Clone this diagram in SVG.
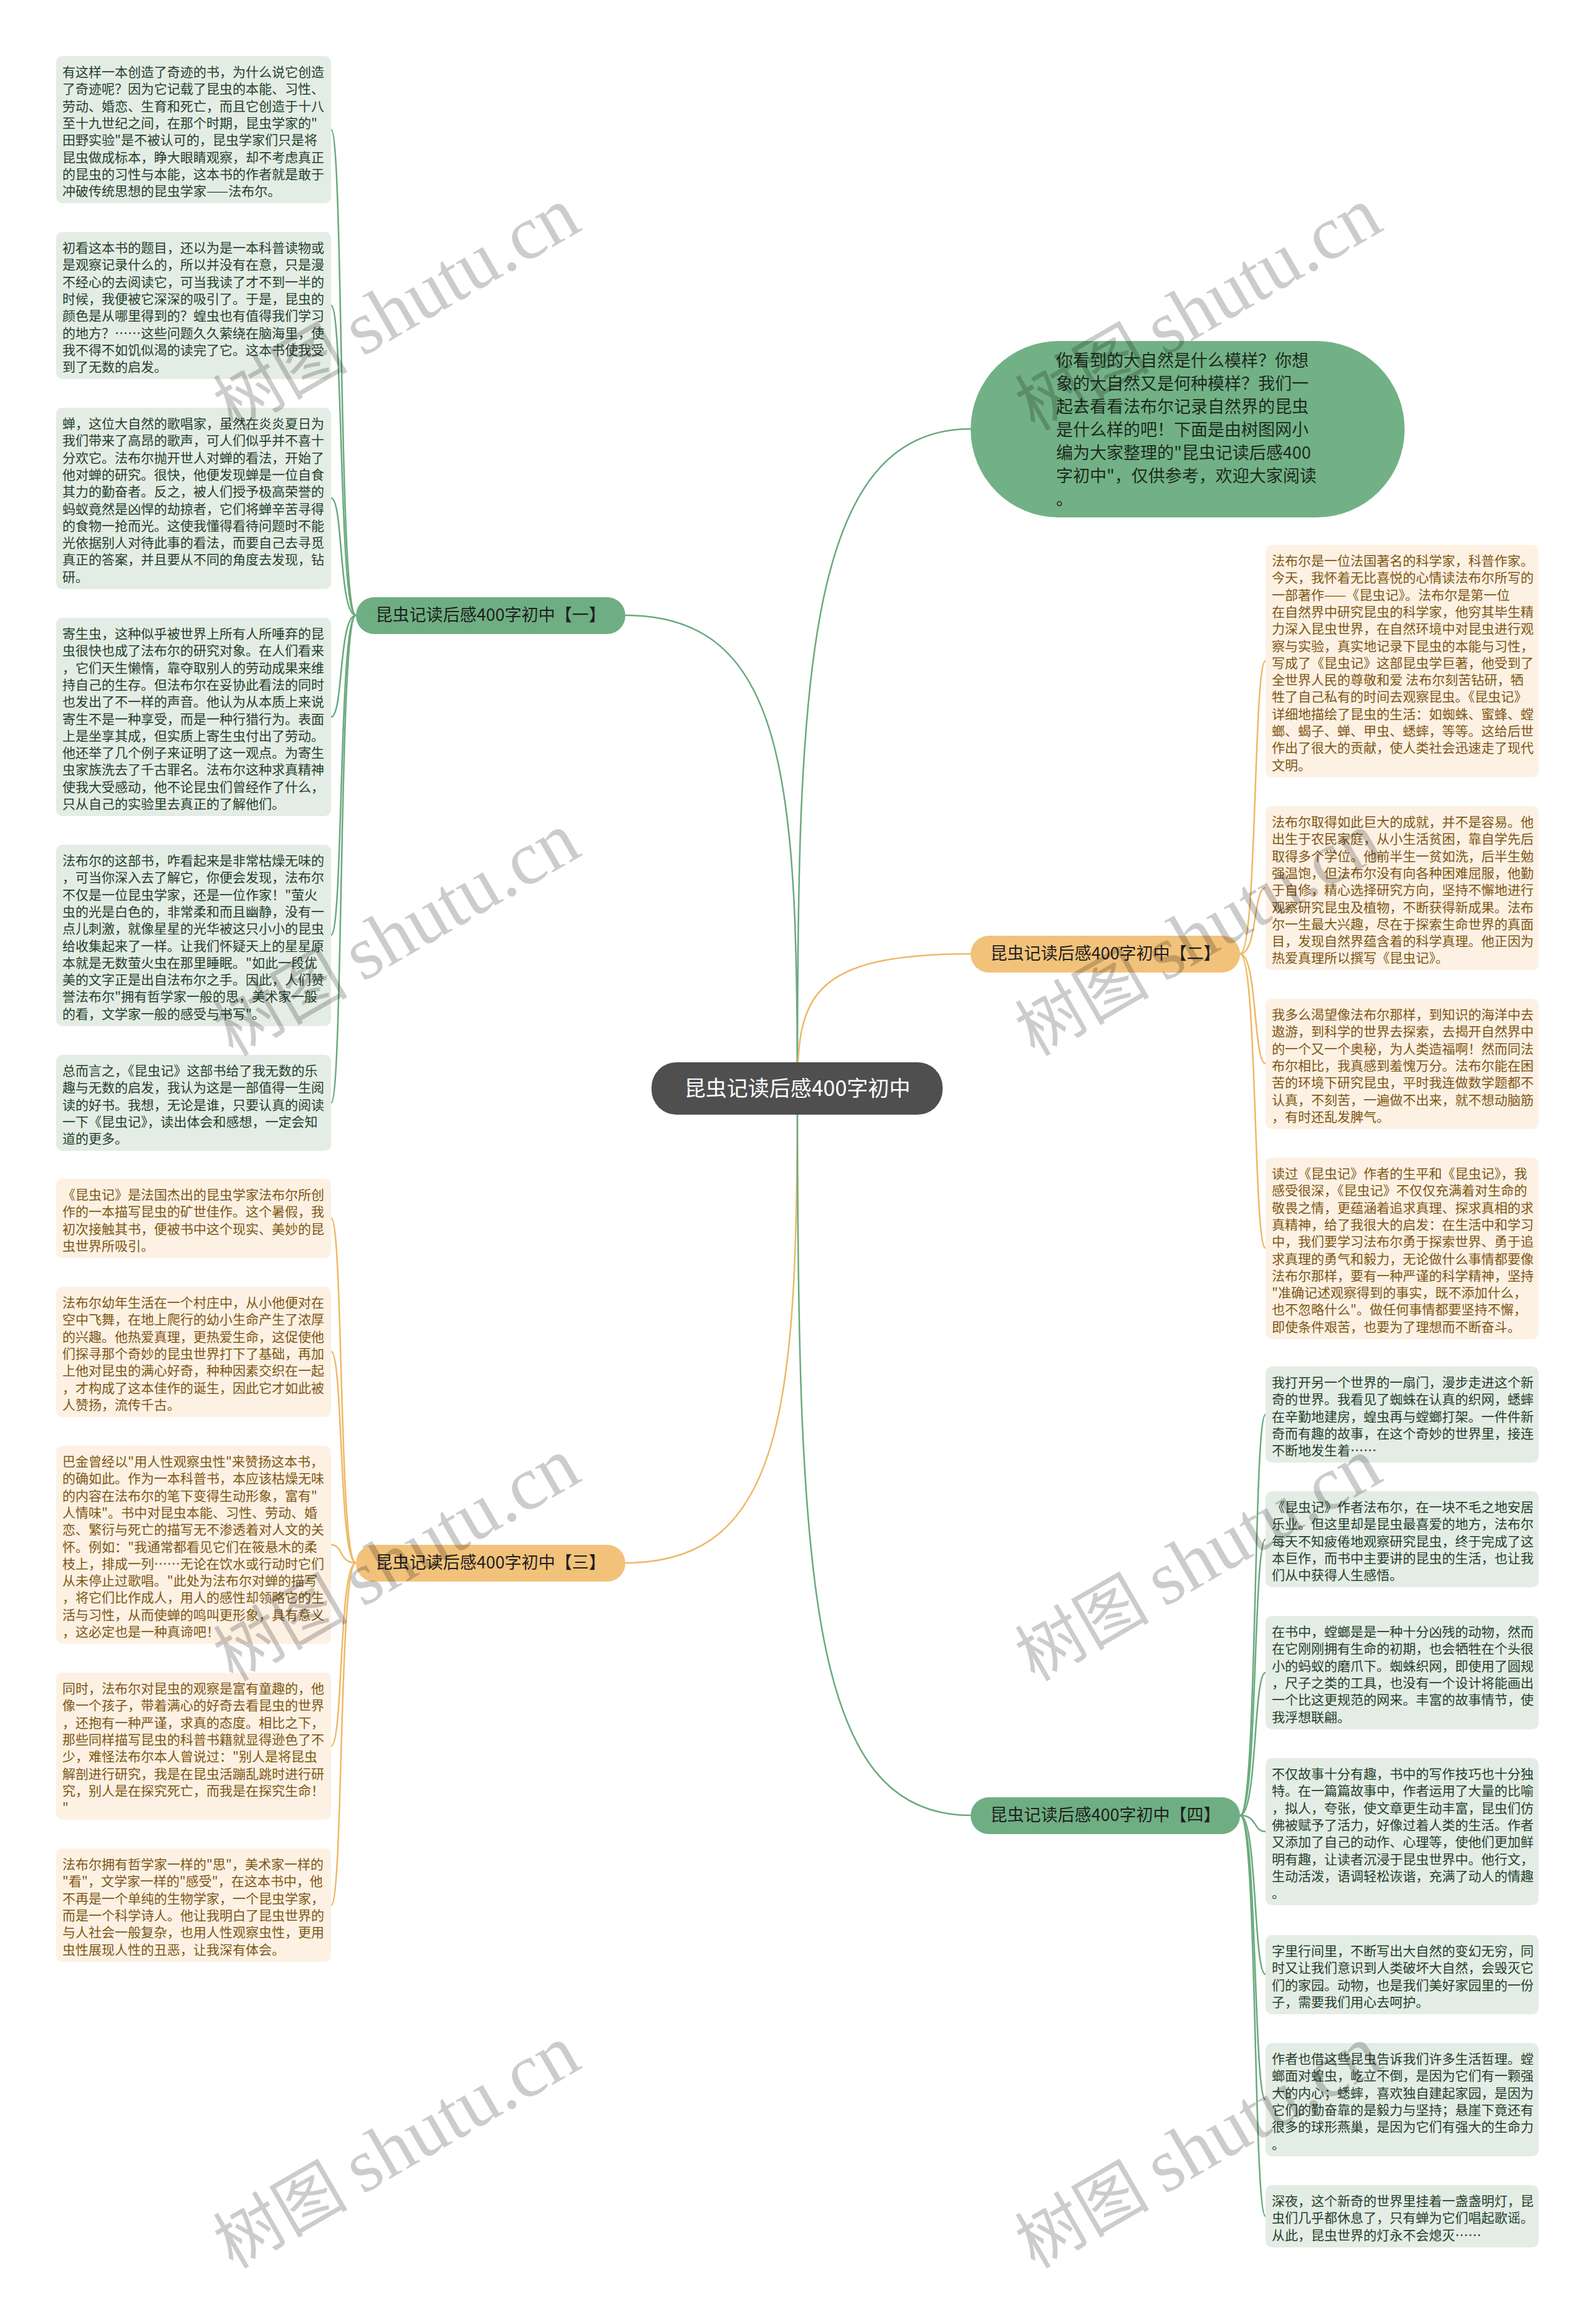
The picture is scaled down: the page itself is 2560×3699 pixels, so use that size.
<svg xmlns="http://www.w3.org/2000/svg" width="2560" height="3699" viewBox="0 0 2560 3699">
<style>
text{font-family:"Noto Sans CJK SC","Noto Sans",sans-serif}
.bg{fill:#e4ede5}
.bo{fill:#fdf1e3}
.tg{font-size:21px;fill:#24402c}
.to{font-size:21px;fill:#7e5714}
.lg{fill:none;stroke:#6aa97d;stroke-width:2.5}
.lo{fill:none;stroke:#eeb865;stroke-width:2.5}
.br{font-size:27px;fill:#1f1f1f;text-anchor:middle}
.wm{font-size:108px;fill:#000;fill-opacity:0.2;text-anchor:middle}
.wl{font-family:"Liberation Serif",serif;font-size:122px}
</style>
<rect width="2560" height="3699" fill="#ffffff"/>
<g id="connectors">
<path class="lg" d="M1279 1746 C1279 1100 1290 688 1557 688"/>
<path class="lg" d="M1279 1746 C1279 1250 1260 987 1003 987"/>
<path class="lo" d="M1279 1746 C1279 1600 1300 1530 1557 1530"/>
<path class="lo" d="M1279 1746 C1279 2250 1260 2507 1003 2507"/>
<path class="lg" d="M1279 1746 C1279 2550 1300 2912 1557 2912"/>
<path class="lg" d="M571 987 C543 987 551 208 531 208"/>
<path class="lg" d="M571 987 C543 987 551 490 531 490"/>
<path class="lg" d="M571 987 C543 987 551 799 531 799"/>
<path class="lg" d="M571 987 C543 987 551 1150 531 1150"/>
<path class="lg" d="M571 987 C543 987 551 1500 531 1500"/>
<path class="lg" d="M571 987 C543 987 551 1769 531 1769"/>
<path class="lo" d="M571 2507 C543 2507 551 1954 531 1954"/>
<path class="lo" d="M571 2507 C543 2507 551 2168 531 2168"/>
<path class="lo" d="M571 2507 C543 2507 551 2478 531 2478"/>
<path class="lo" d="M571 2507 C543 2507 551 2801 531 2801"/>
<path class="lo" d="M571 2507 C543 2507 551 3056 531 3056"/>
<path class="lo" d="M1989 1530 C2017 1530 2010 1060 2030 1060"/>
<path class="lo" d="M1989 1530 C2017 1530 2010 1424 2030 1424"/>
<path class="lo" d="M1989 1530 C2017 1530 2010 1706 2030 1706"/>
<path class="lo" d="M1989 1530 C2017 1530 2010 2002 2030 2002"/>
<path class="lg" d="M1989 2912 C2017 2912 2010 2269 2030 2269"/>
<path class="lg" d="M1989 2912 C2017 2912 2010 2469 2030 2469"/>
<path class="lg" d="M1989 2912 C2017 2912 2010 2683 2030 2683"/>
<path class="lg" d="M1989 2912 C2017 2912 2010 2938 2030 2938"/>
<path class="lg" d="M1989 2912 C2017 2912 2010 3167 2030 3167"/>
<path class="lg" d="M1989 2912 C2017 2912 2010 3368 2030 3368"/>
<path class="lg" d="M1989 2912 C2017 2912 2010 3555 2030 3555"/>
</g>
<g id="root">
<rect x="1045" y="1704" width="467" height="84" rx="40" fill="#4f4f4f"/>
<text x="1279" y="1758" font-size="34" fill="#ffffff" text-anchor="middle">昆虫记读后感400字初中</text>
</g>
<g id="intro">
<rect x="1557" y="547" width="696" height="283" rx="141" fill="#72b185"/>
<text x="1694" y="588" font-size="27" fill="#1d2a20"><tspan x="1694">你看到的大自然是什么模样？你想</tspan><tspan x="1694" dy="37">象的大自然又是何种模样？我们一</tspan><tspan x="1694" dy="37">起去看看法布尔记录自然界的昆虫</tspan><tspan x="1694" dy="37">是什么样的吧！下面是由树图网小</tspan><tspan x="1694" dy="37">编为大家整理的"昆虫记读后感400</tspan><tspan x="1694" dy="37">字初中"，仅供参考，欢迎大家阅读</tspan><tspan x="1694" dy="37">。</tspan></text>
</g>
<g id="b1">
<rect x="571" y="958" width="432" height="59" rx="29" fill="#6fae82"/>
<text class="br" x="787" y="996">昆虫记读后感400字初中【一】</text>
</g>
<g id="b2">
<rect x="1557" y="1501" width="432" height="59" rx="29" fill="#f2c27a"/>
<text class="br" x="1773" y="1539">昆虫记读后感400字初中【二】</text>
</g>
<g id="b3">
<rect x="571" y="2478" width="432" height="59" rx="29" fill="#f2c27a"/>
<text class="br" x="787" y="2516">昆虫记读后感400字初中【三】</text>
</g>
<g id="b4">
<rect x="1557" y="2883" width="432" height="59" rx="29" fill="#6fae82"/>
<text class="br" x="1773" y="2921">昆虫记读后感400字初中【四】</text>
</g>
<g id="l1"><rect class="bg" x="90" y="90" width="441" height="236" rx="10"/>
<text class="tg" x="100" y="123"><tspan x="100">有这样一本创造了奇迹的书，为什么说它创造</tspan><tspan x="100" dy="27.3">了奇迹呢？因为它记载了昆虫的本能、习性、</tspan><tspan x="100" dy="27.3">劳动、婚恋、生育和死亡，而且它创造于十八</tspan><tspan x="100" dy="27.3">至十九世纪之间，在那个时期，昆虫学家的"</tspan><tspan x="100" dy="27.3">田野实验"是不被认可的，昆虫学家们只是将</tspan><tspan x="100" dy="27.3">昆虫做成标本，睁大眼睛观察，却不考虑真正</tspan><tspan x="100" dy="27.3">的昆虫的习性与本能，这本书的作者就是敢于</tspan><tspan x="100" dy="27.3">冲破传统思想的昆虫学家——法布尔。</tspan></text></g>
<g id="l2"><rect class="bg" x="90" y="372" width="441" height="236" rx="10"/>
<text class="tg" x="100" y="405"><tspan x="100">初看这本书的题目，还以为是一本科普读物或</tspan><tspan x="100" dy="27.3">是观察记录什么的，所以并没有在意，只是漫</tspan><tspan x="100" dy="27.3">不经心的去阅读它，可当我读了才不到一半的</tspan><tspan x="100" dy="27.3">时候，我便被它深深的吸引了。于是，昆虫的</tspan><tspan x="100" dy="27.3">颜色是从哪里得到的？蝗虫也有值得我们学习</tspan><tspan x="100" dy="27.3">的地方？……这些问题久久萦绕在脑海里，使</tspan><tspan x="100" dy="27.3">我不得不如饥似渴的读完了它。这本书使我受</tspan><tspan x="100" dy="27.3">到了无数的启发。</tspan></text></g>
<g id="l3"><rect class="bg" x="90" y="654" width="441" height="291" rx="10"/>
<text class="tg" x="100" y="687"><tspan x="100">蝉，这位大自然的歌唱家，虽然在炎炎夏日为</tspan><tspan x="100" dy="27.3">我们带来了高昂的歌声，可人们似乎并不喜十</tspan><tspan x="100" dy="27.3">分欢它。法布尔抛开世人对蝉的看法，开始了</tspan><tspan x="100" dy="27.3">他对蝉的研究。很快，他便发现蝉是一位自食</tspan><tspan x="100" dy="27.3">其力的勤奋者。反之，被人们授予极高荣誉的</tspan><tspan x="100" dy="27.3">蚂蚁竟然是凶悍的劫掠者，它们将蝉辛苦寻得</tspan><tspan x="100" dy="27.3">的食物一抢而光。这使我懂得看待问题时不能</tspan><tspan x="100" dy="27.3">光依据别人对待此事的看法，而要自己去寻觅</tspan><tspan x="100" dy="27.3">真正的答案，并且要从不同的角度去发现，钻</tspan><tspan x="100" dy="27.3">研。</tspan></text></g>
<g id="l4"><rect class="bg" x="90" y="991" width="441" height="318" rx="10"/>
<text class="tg" x="100" y="1024"><tspan x="100">寄生虫，这种似乎被世界上所有人所唾弃的昆</tspan><tspan x="100" dy="27.3">虫很快也成了法布尔的研究对象。在人们看来</tspan><tspan x="100" dy="27.3">，它们天生懒惰，靠夺取别人的劳动成果来维</tspan><tspan x="100" dy="27.3">持自己的生存。但法布尔在妥协此看法的同时</tspan><tspan x="100" dy="27.3">也发出了不一样的声音。他认为从本质上来说</tspan><tspan x="100" dy="27.3">寄生不是一种享受，而是一种行猎行为。表面</tspan><tspan x="100" dy="27.3">上是坐享其成，但实质上寄生虫付出了劳动。</tspan><tspan x="100" dy="27.3">他还举了几个例子来证明了这一观点。为寄生</tspan><tspan x="100" dy="27.3">虫家族洗去了千古罪名。法布尔这种求真精神</tspan><tspan x="100" dy="27.3">使我大受感动，他不论昆虫们曾经作了什么，</tspan><tspan x="100" dy="27.3">只从自己的实验里去真正的了解他们。</tspan></text></g>
<g id="l5"><rect class="bg" x="90" y="1355" width="441" height="291" rx="10"/>
<text class="tg" x="100" y="1388"><tspan x="100">法布尔的这部书，咋看起来是非常枯燥无味的</tspan><tspan x="100" dy="27.3">，可当你深入去了解它，你便会发现，法布尔</tspan><tspan x="100" dy="27.3">不仅是一位昆虫学家，还是一位作家！"萤火</tspan><tspan x="100" dy="27.3">虫的光是白色的，非常柔和而且幽静，没有一</tspan><tspan x="100" dy="27.3">点儿刺激，就像星星的光华被这只小小的昆虫</tspan><tspan x="100" dy="27.3">给收集起来了一样。让我们怀疑天上的星星原</tspan><tspan x="100" dy="27.3">本就是无数萤火虫在那里睡眠。"如此一段优</tspan><tspan x="100" dy="27.3">美的文字正是出自法布尔之手。因此，人们赞</tspan><tspan x="100" dy="27.3">誉法布尔"拥有哲学家一般的思，美术家一般</tspan><tspan x="100" dy="27.3">的看，文学家一般的感受与书写"。</tspan></text></g>
<g id="l6"><rect class="bg" x="90" y="1692" width="441" height="154" rx="10"/>
<text class="tg" x="100" y="1725"><tspan x="100">总而言之，《昆虫记》这部书给了我无数的乐</tspan><tspan x="100" dy="27.3">趣与无数的启发，我认为这是一部值得一生阅</tspan><tspan x="100" dy="27.3">读的好书。我想，无论是谁，只要认真的阅读</tspan><tspan x="100" dy="27.3">一下《昆虫记》，读出体会和感想，一定会知</tspan><tspan x="100" dy="27.3">道的更多。</tspan></text></g>
<g id="l7"><rect class="bo" x="90" y="1891" width="441" height="127" rx="10"/>
<text class="to" x="100" y="1924"><tspan x="100">《昆虫记》是法国杰出的昆虫学家法布尔所创</tspan><tspan x="100" dy="27.3">作的一本描写昆虫的矿世佳作。这个暑假，我</tspan><tspan x="100" dy="27.3">初次接触其书，便被书中这个现实、美妙的昆</tspan><tspan x="100" dy="27.3">虫世界所吸引。</tspan></text></g>
<g id="l8"><rect class="bo" x="90" y="2064" width="441" height="209" rx="10"/>
<text class="to" x="100" y="2097"><tspan x="100">法布尔幼年生活在一个村庄中，从小他便对在</tspan><tspan x="100" dy="27.3">空中飞舞，在地上爬行的幼小生命产生了浓厚</tspan><tspan x="100" dy="27.3">的兴趣。他热爱真理，更热爱生命，这促使他</tspan><tspan x="100" dy="27.3">们探寻那个奇妙的昆虫世界打下了基础，再加</tspan><tspan x="100" dy="27.3">上他对昆虫的满心好奇，种种因素交织在一起</tspan><tspan x="100" dy="27.3">，才构成了这本佳作的诞生，因此它才如此被</tspan><tspan x="100" dy="27.3">人赞扬，流传千古。</tspan></text></g>
<g id="l9"><rect class="bo" x="90" y="2319" width="441" height="318" rx="10"/>
<text class="to" x="100" y="2352"><tspan x="100">巴金曾经以"用人性观察虫性"来赞扬这本书，</tspan><tspan x="100" dy="27.3">的确如此。作为一本科普书，本应该枯燥无味</tspan><tspan x="100" dy="27.3">的内容在法布尔的笔下变得生动形象，富有"</tspan><tspan x="100" dy="27.3">人情味"。书中对昆虫本能、习性、劳动、婚</tspan><tspan x="100" dy="27.3">恋、繁衍与死亡的描写无不渗透着对人文的关</tspan><tspan x="100" dy="27.3">怀。例如："我通常都看见它们在筱悬木的柔</tspan><tspan x="100" dy="27.3">枝上，排成一列……无论在饮水或行动时它们</tspan><tspan x="100" dy="27.3">从未停止过歌唱。"此处为法布尔对蝉的描写</tspan><tspan x="100" dy="27.3">，将它们比作成人，用人的感性却领略它的生</tspan><tspan x="100" dy="27.3">活与习性，从而使蝉的鸣叫更形象，具有意义</tspan><tspan x="100" dy="27.3">，这必定也是一种真谛吧！</tspan></text></g>
<g id="l10"><rect class="bo" x="90" y="2683" width="441" height="236" rx="10"/>
<text class="to" x="100" y="2716"><tspan x="100">同时，法布尔对昆虫的观察是富有童趣的，他</tspan><tspan x="100" dy="27.3">像一个孩子，带着满心的好奇去看昆虫的世界</tspan><tspan x="100" dy="27.3">，还抱有一种严谨，求真的态度。相比之下，</tspan><tspan x="100" dy="27.3">那些同样描写昆虫的科普书籍就显得逊色了不</tspan><tspan x="100" dy="27.3">少，难怪法布尔本人曾说过："别人是将昆虫</tspan><tspan x="100" dy="27.3">解剖进行研究，我是在昆虫活蹦乱跳时进行研</tspan><tspan x="100" dy="27.3">究，别人是在探究死亡，而我是在探究生命！</tspan><tspan x="100" dy="27.3">"</tspan></text></g>
<g id="l11"><rect class="bo" x="90" y="2965" width="441" height="182" rx="10"/>
<text class="to" x="100" y="2998"><tspan x="100">法布尔拥有哲学家一样的"思"，美术家一样的</tspan><tspan x="100" dy="27.3">"看"，文学家一样的"感受"，在这本书中，他</tspan><tspan x="100" dy="27.3">不再是一个单纯的生物学家，一个昆虫学家，</tspan><tspan x="100" dy="27.3">而是一个科学诗人。他让我明白了昆虫世界的</tspan><tspan x="100" dy="27.3">与人社会一般复杂，也用人性观察虫性，更用</tspan><tspan x="100" dy="27.3">虫性展现人性的丑恶，让我深有体会。</tspan></text></g>
<g id="r1"><rect class="bo" x="2030" y="874" width="438" height="373" rx="10"/>
<text class="to" x="2040" y="907"><tspan x="2040">法布尔是一位法国著名的科学家，科普作家。</tspan><tspan x="2040" dy="27.3">今天，我怀着无比喜悦的心情读法布尔所写的</tspan><tspan x="2040" dy="27.3">一部著作——《昆虫记》。法布尔是第一位</tspan><tspan x="2040" dy="27.3">在自然界中研究昆虫的科学家，他穷其毕生精</tspan><tspan x="2040" dy="27.3">力深入昆虫世界，在自然环境中对昆虫进行观</tspan><tspan x="2040" dy="27.3">察与实验，真实地记录下昆虫的本能与习性，</tspan><tspan x="2040" dy="27.3">写成了《昆虫记》这部昆虫学巨著，他受到了</tspan><tspan x="2040" dy="27.3">全世界人民的尊敬和爱 法布尔刻苦钻研，牺</tspan><tspan x="2040" dy="27.3">牲了自己私有的时间去观察昆虫。《昆虫记》</tspan><tspan x="2040" dy="27.3">详细地描绘了昆虫的生活：如蜘蛛、蜜蜂、螳</tspan><tspan x="2040" dy="27.3">螂、蝎子、蝉、甲虫、蟋蟀，等等。这给后世</tspan><tspan x="2040" dy="27.3">作出了很大的贡献，使人类社会迅速走了现代</tspan><tspan x="2040" dy="27.3">文明。</tspan></text></g>
<g id="r2"><rect class="bo" x="2030" y="1293" width="438" height="263" rx="10"/>
<text class="to" x="2040" y="1326"><tspan x="2040">法布尔取得如此巨大的成就，并不是容易。他</tspan><tspan x="2040" dy="27.3">出生于农民家庭，从小生活贫困，靠自学先后</tspan><tspan x="2040" dy="27.3">取得多个学位。他前半生一贫如洗，后半生勉</tspan><tspan x="2040" dy="27.3">强温饱，但法布尔没有向各种困难屈服，他勤</tspan><tspan x="2040" dy="27.3">于自修，精心选择研究方向，坚持不懈地进行</tspan><tspan x="2040" dy="27.3">观察研究昆虫及植物，不断获得新成果。法布</tspan><tspan x="2040" dy="27.3">尔一生最大兴趣，尽在于探索生命世界的真面</tspan><tspan x="2040" dy="27.3">目，发现自然界蕴含着的科学真理。他正因为</tspan><tspan x="2040" dy="27.3">热爱真理所以撰写《昆虫记》。</tspan></text></g>
<g id="r3"><rect class="bo" x="2030" y="1602" width="438" height="209" rx="10"/>
<text class="to" x="2040" y="1635"><tspan x="2040">我多么渴望像法布尔那样，到知识的海洋中去</tspan><tspan x="2040" dy="27.3">遨游，到科学的世界去探索，去揭开自然界中</tspan><tspan x="2040" dy="27.3">的一个又一个奥秘，为人类造福啊！然而同法</tspan><tspan x="2040" dy="27.3">布尔相比，我真感到羞愧万分。法布尔能在困</tspan><tspan x="2040" dy="27.3">苦的环境下研究昆虫，平时我连做数学题都不</tspan><tspan x="2040" dy="27.3">认真，不刻苦，一遍做不出来，就不想动脑筋</tspan><tspan x="2040" dy="27.3">，有时还乱发脾气。</tspan></text></g>
<g id="r4"><rect class="bo" x="2030" y="1857" width="438" height="291" rx="10"/>
<text class="to" x="2040" y="1890"><tspan x="2040">读过《昆虫记》作者的生平和《昆虫记》，我</tspan><tspan x="2040" dy="27.3">感受很深，《昆虫记》不仅仅充满着对生命的</tspan><tspan x="2040" dy="27.3">敬畏之情，更蕴涵着追求真理、探求真相的求</tspan><tspan x="2040" dy="27.3">真精神，给了我很大的启发：在生活中和学习</tspan><tspan x="2040" dy="27.3">中，我们要学习法布尔勇于探索世界、勇于追</tspan><tspan x="2040" dy="27.3">求真理的勇气和毅力，无论做什么事情都要像</tspan><tspan x="2040" dy="27.3">法布尔那样，要有一种严谨的科学精神，坚持</tspan><tspan x="2040" dy="27.3">"准确记述观察得到的事实，既不添加什么，</tspan><tspan x="2040" dy="27.3">也不忽略什么"。做任何事情都要坚持不懈，</tspan><tspan x="2040" dy="27.3">即使条件艰苦，也要为了理想而不断奋斗。</tspan></text></g>
<g id="r5"><rect class="bg" x="2030" y="2192" width="438" height="154" rx="10"/>
<text class="tg" x="2040" y="2225"><tspan x="2040">我打开另一个世界的一扇门，漫步走进这个新</tspan><tspan x="2040" dy="27.3">奇的世界。我看见了蜘蛛在认真的织网，蟋蟀</tspan><tspan x="2040" dy="27.3">在辛勤地建房，蝗虫再与螳螂打架。一件件新</tspan><tspan x="2040" dy="27.3">奇而有趣的故事，在这个奇妙的世界里，接连</tspan><tspan x="2040" dy="27.3">不断地发生着……</tspan></text></g>
<g id="r6"><rect class="bg" x="2030" y="2392" width="438" height="154" rx="10"/>
<text class="tg" x="2040" y="2425"><tspan x="2040">《昆虫记》作者法布尔，在一块不毛之地安居</tspan><tspan x="2040" dy="27.3">乐业。但这里却是昆虫最喜爱的地方，法布尔</tspan><tspan x="2040" dy="27.3">每天不知疲倦地观察研究昆虫，终于完成了这</tspan><tspan x="2040" dy="27.3">本巨作，而书中主要讲的昆虫的生活，也让我</tspan><tspan x="2040" dy="27.3">们从中获得人生感悟。</tspan></text></g>
<g id="r7"><rect class="bg" x="2030" y="2592" width="438" height="182" rx="10"/>
<text class="tg" x="2040" y="2625"><tspan x="2040">在书中，螳螂是是一种十分凶残的动物，然而</tspan><tspan x="2040" dy="27.3">在它刚刚拥有生命的初期，也会牺牲在个头很</tspan><tspan x="2040" dy="27.3">小的蚂蚁的磨爪下。蜘蛛织网，即使用了圆规</tspan><tspan x="2040" dy="27.3">，尺子之类的工具，也没有一个设计将能画出</tspan><tspan x="2040" dy="27.3">一个比这更规范的网来。丰富的故事情节，使</tspan><tspan x="2040" dy="27.3">我浮想联翩。</tspan></text></g>
<g id="r8"><rect class="bg" x="2030" y="2820" width="438" height="236" rx="10"/>
<text class="tg" x="2040" y="2853"><tspan x="2040">不仅故事十分有趣，书中的写作技巧也十分独</tspan><tspan x="2040" dy="27.3">特。在一篇篇故事中，作者运用了大量的比喻</tspan><tspan x="2040" dy="27.3">，拟人，夸张，使文章更生动丰富，昆虫们仿</tspan><tspan x="2040" dy="27.3">佛被赋予了活力，好像过着人类的生活。作者</tspan><tspan x="2040" dy="27.3">又添加了自己的动作、心理等，使他们更加鲜</tspan><tspan x="2040" dy="27.3">明有趣，让读者沉浸于昆虫世界中。他行文，</tspan><tspan x="2040" dy="27.3">生动活泼，语调轻松诙谐，充满了动人的情趣</tspan><tspan x="2040" dy="27.3">。</tspan></text></g>
<g id="r9"><rect class="bg" x="2030" y="3104" width="438" height="127" rx="10"/>
<text class="tg" x="2040" y="3137"><tspan x="2040">字里行间里，不断写出大自然的变幻无穷，同</tspan><tspan x="2040" dy="27.3">时又让我们意识到人类破坏大自然，会毁灭它</tspan><tspan x="2040" dy="27.3">们的家园。动物，也是我们美好家园里的一份</tspan><tspan x="2040" dy="27.3">子，需要我们用心去呵护。</tspan></text></g>
<g id="r10"><rect class="bg" x="2030" y="3277" width="438" height="182" rx="10"/>
<text class="tg" x="2040" y="3310"><tspan x="2040">作者也借这些昆虫告诉我们许多生活哲理。螳</tspan><tspan x="2040" dy="27.3">螂面对蝗虫，屹立不倒，是因为它们有一颗强</tspan><tspan x="2040" dy="27.3">大的内心；蟋蟀，喜欢独自建起家园，是因为</tspan><tspan x="2040" dy="27.3">它们的勤奋靠的是毅力与坚持；悬崖下竟还有</tspan><tspan x="2040" dy="27.3">很多的球形燕巢，是因为它们有强大的生命力</tspan><tspan x="2040" dy="27.3">。</tspan></text></g>
<g id="r11"><rect class="bg" x="2030" y="3505" width="438" height="100" rx="10"/>
<text class="tg" x="2040" y="3538"><tspan x="2040">深夜，这个新奇的世界里挂着一盏盏明灯，昆</tspan><tspan x="2040" dy="27.3">虫们几乎都休息了，只有蝉为它们唱起歌谣。</tspan><tspan x="2040" dy="27.3">从此，昆虫世界的灯永不会熄灭……</tspan></text></g>
<g id="watermarks">
<text class="wm" transform="translate(655 530) rotate(-30)">树图 <tspan class="wl">shutu.cn</tspan></text>
<text class="wm" transform="translate(1941 530) rotate(-30)">树图 <tspan class="wl">shutu.cn</tspan></text>
<text class="wm" transform="translate(655 1533) rotate(-30)">树图 <tspan class="wl">shutu.cn</tspan></text>
<text class="wm" transform="translate(1941 1533) rotate(-30)">树图 <tspan class="wl">shutu.cn</tspan></text>
<text class="wm" transform="translate(655 2536) rotate(-30)">树图 <tspan class="wl">shutu.cn</tspan></text>
<text class="wm" transform="translate(1941 2536) rotate(-30)">树图 <tspan class="wl">shutu.cn</tspan></text>
<text class="wm" transform="translate(655 3478) rotate(-30)">树图 <tspan class="wl">shutu.cn</tspan></text>
<text class="wm" transform="translate(1941 3478) rotate(-30)">树图 <tspan class="wl">shutu.cn</tspan></text>
</g>
</svg>
